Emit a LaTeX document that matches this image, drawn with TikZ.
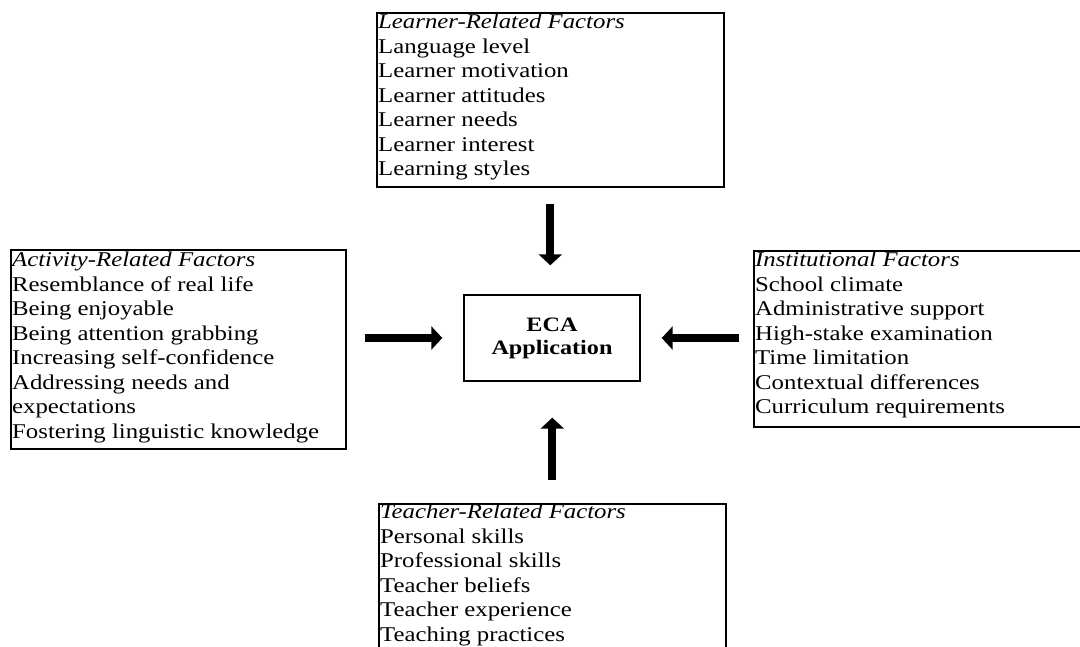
\documentclass[tikz,border=0pt]{standalone}
\usepackage{fontspec}
\setmainfont[FakeStretch=1.18]{Liberation Serif}
\usetikzlibrary{arrows.meta}

% list of factors: first baseline sits at the node's base anchor
\newcommand\factorlines[1]{\parbox[t]{420pt}{\fontsize{21}{24.5}\selectfont\raggedright #1}}

\tikzset{
  factorbox/.style={draw=black, line width=1.6pt, inner sep=0pt, anchor=north west},
  factortext/.style={inner sep=0pt, anchor=base west},
  corebox/.style={draw=black, line width=1.4pt, inner sep=0pt,
    minimum width=176pt, minimum height=86pt, align=center,
    font=\fontsize{20.5}{23}\selectfont\bfseries},
  bigarrow/.style={line width=8pt, -{Triangle[length=11pt,width=23pt]}}
}

\begin{document}
\begin{tikzpicture}[x=1pt, y=-1pt]
  \path[use as bounding box] (0,0) rectangle (1080,646);
  \clip (0,0) rectangle (1080,646);
  \fill[white] (0,0) rectangle (1080,646);

  % frames of the four factor groups
  \node[factorbox, minimum width=347pt, minimum height=174pt] (learner) at (376,12) {};
  \node[factorbox, minimum width=335pt, minimum height=199pt] (activity) at (10,249) {};
  \node[factorbox, minimum width=340pt, minimum height=176pt] (institution) at (753,250) {};
  \node[factorbox, minimum width=347pt, minimum height=170pt] (teacher) at (378,503) {};

  % central box
  \node[corebox] (eca) at (552,338) {ECA\\Application};

  % factor lists
  \node[factortext] (learnertext) at (378,28.5) {\factorlines{%
    \textit{Learner-Related Factors}\\
    Language level\\
    Learner motivation\\
    Learner attitudes\\
    Learner needs\\
    Learner interest\\
    Learning styles}};
  \node[factortext] (activitytext) at (12,266.5) {\factorlines{%
    \textit{Activity-Related Factors}\\
    Resemblance of real life\\
    Being enjoyable\\
    Being attention grabbing\\
    Increasing self-confidence\\
    Addressing needs and\\
    expectations\\
    Fostering linguistic knowledge}};
  \node[factortext] (institutiontext) at (755,266.5) {\factorlines{%
    \textit{Institutional Factors}\\
    School climate\\
    Administrative support\\
    High-stake examination\\
    Time limitation\\
    Contextual differences\\
    Curriculum requirements}};
  \node[factortext] (teachertext) at (380,518.5) {\factorlines{%
    \textit{Teacher-Related Factors}\\
    Personal skills\\
    Professional skills\\
    Teacher beliefs\\
    Teacher experience\\
    Teaching practices}};

  % arrows into the central box
  \draw[bigarrow, shorten <=16pt, shorten >=29pt]
    (learner.south) -- (learner.south |- eca.north);
  \draw[bigarrow, shorten <=23pt, shorten >=36pt]
    (teacher.north) -- (teacher.north |- eca.south);
  \draw[bigarrow, shorten <=18pt, shorten >=21pt]
    (activity.east |- eca.west) -- (eca.west);
  \draw[bigarrow, shorten <=14pt, shorten >=21pt]
    (institution.west |- eca.east) -- (eca.east);
\end{tikzpicture}
\end{document}
